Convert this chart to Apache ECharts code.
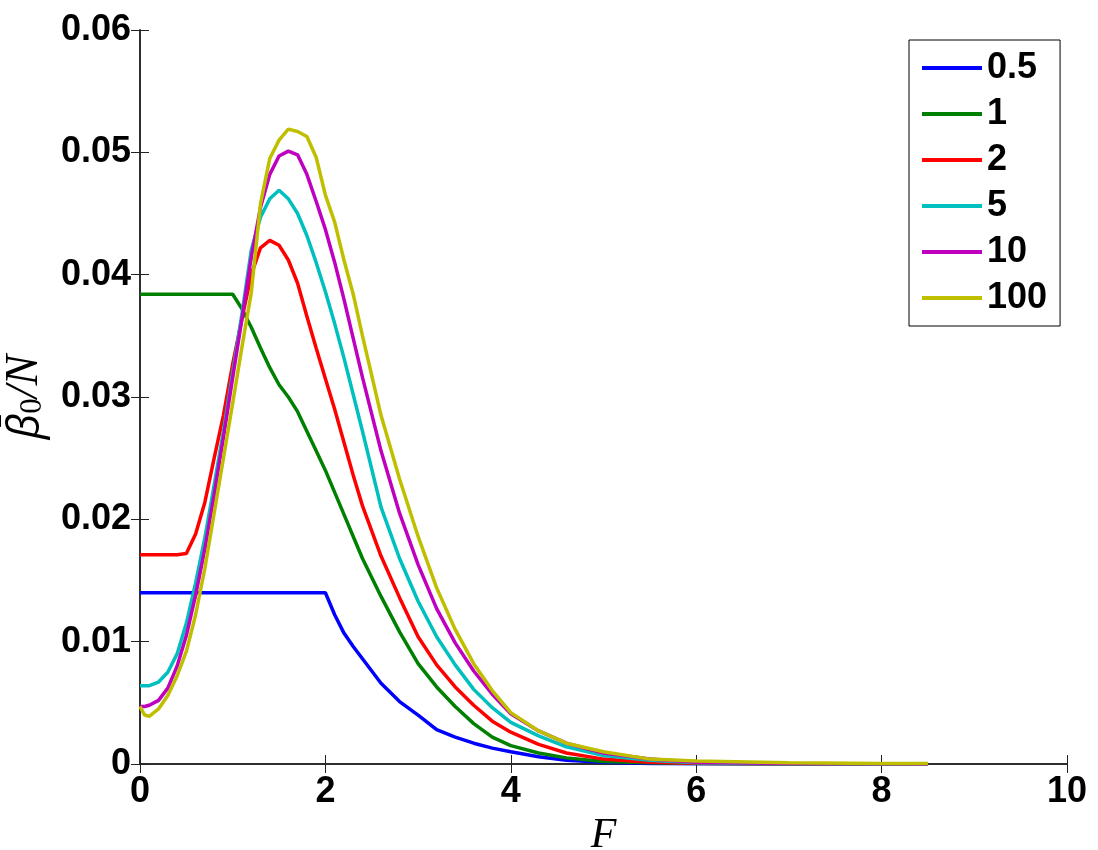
<!DOCTYPE html>
<html><head><meta charset="utf-8">
<script src="https://cdn.jsdelivr.net/npm/echarts@6/dist/echarts.min.js"></script>
<style>html,body{margin:0;padding:0;background:#fff}#c{width:1098px;height:850px}</style>
</head><body><div id="c"></div>
<script>
const F = [0, 0.05, 0.1, 0.2, 0.3, 0.4, 0.5, 0.6, 0.7, 0.8, 0.9, 1.0, 1.1, 1.2, 1.3, 1.4, 1.5, 1.6, 1.7, 1.8, 1.9, 2.0, 2.1, 2.2, 2.3, 2.4, 2.6, 2.8, 3.0, 3.2, 3.4, 3.6, 3.8, 4.0, 4.3, 4.6, 5.0, 5.5, 6.0, 7.0, 8.0, 8.5];
const s0_5 = [0.014,0.014,0.014,0.014,0.014,0.014,0.014,0.014,0.014,0.014,0.014,0.014,0.014,0.014,0.014,0.014,0.014,0.014,0.014,0.014,0.014,0.014,0.0122,0.0107,0.0096,0.0086,0.0066,0.0051,0.0040,0.0028,0.0022,0.0017,0.0013,0.0010,0.0006,0.0003,0.00015,0.00005,0.00002,0,0,0];
const s1 = [0.0384,0.0384,0.0384,0.0384,0.0384,0.0384,0.0384,0.0384,0.0384,0.0384,0.0384,0.0384,0.0372,0.0357,0.0340,0.0324,0.0310,0.0300,0.0288,0.0272,0.0256,0.0240,0.0222,0.0204,0.0186,0.0168,0.0137,0.0108,0.0082,0.0063,0.0047,0.0033,0.0022,0.0015,0.0009,0.0005,0.0002,0.0001,0.00004,0.00001,0,0];
const s2 = [0.0171,0.0171,0.0171,0.0171,0.0171,0.0171,0.0172,0.0188,0.0214,0.0250,0.0285,0.0327,0.0364,0.0400,0.0422,0.0428,0.0424,0.0412,0.0393,0.0366,0.0340,0.0315,0.0290,0.0263,0.0236,0.0211,0.0170,0.0136,0.0104,0.0081,0.0063,0.0048,0.0035,0.0026,0.0016,0.0009,0.0004,0.00015,0.00006,0.00002,0,0];
const s5 = [0.0064,0.0064,0.0064,0.0067,0.0075,0.0090,0.0115,0.0148,0.0185,0.0228,0.0272,0.0320,0.0368,0.0420,0.0447,0.0462,0.0469,0.0462,0.0450,0.0432,0.0410,0.0386,0.0360,0.0332,0.0302,0.0272,0.0210,0.0168,0.0133,0.0104,0.0081,0.0061,0.0046,0.0034,0.0023,0.0014,0.0007,0.0003,0.0001,0.00003,0.00001,0];
const s10 = [0.0047,0.0047,0.0048,0.0052,0.0062,0.0080,0.0105,0.0138,0.0176,0.0220,0.0267,0.0316,0.0364,0.0414,0.0455,0.0482,0.0497,0.0501,0.0498,0.0482,0.0460,0.0437,0.0410,0.0380,0.0348,0.0316,0.0256,0.0205,0.0163,0.0127,0.0099,0.0076,0.0057,0.0041,0.0027,0.0017,0.0009,0.0004,0.00015,0.00005,0.00002,0.00001];
const s100 = [0.0047,0.0040,0.0039,0.0045,0.0056,0.0072,0.0092,0.0122,0.0160,0.0205,0.0250,0.0295,0.0341,0.0385,0.0458,0.0495,0.0510,0.0519,0.0517,0.0513,0.0496,0.0465,0.0443,0.0412,0.0384,0.0350,0.0285,0.0233,0.0186,0.0144,0.0110,0.0082,0.0060,0.0042,0.0027,0.0017,0.0010,0.0004,0.00025,0.0001,0.00005,0.00005];
const seriesNames = ['0.5','1','2','5','10','100'];
const seriesValues = [s0_5, s1, s2, s5, s10, s100];
const colors = ['#0000ff','#008000','#ff0000','#00bfbf','#bf00bf','#bfbf00'];

const chart = echarts.init(document.getElementById('c'), null, {renderer:'canvas'});
const labelFont = {fontSize:36, fontWeight:'bold', color:'#000', fontFamily:'Liberation Sans, Arial, sans-serif'};
const lineStyleAxis = {color:'#222', width:1.5};
const tick = {show:true, inside:true, length:9, lineStyle:{color:'#222', width:1}};
chart.setOption({
  animation:false,
  backgroundColor:'#fff',
  grid:{left:140, right:31, top:30, bottom:86, containLabel:false, outerBoundsMode:'none'},
  legend:{
    orient:'vertical', left:909, top:40, align:'left',
    backgroundColor:'#fff', borderColor:'#000', borderWidth:1, borderRadius:0,
    padding:[10,13,10,13], itemGap:10, itemWidth:60, itemHeight:4, icon:'rect',
    textStyle:Object.assign({lineHeight:36}, labelFont),
    data:seriesNames
  },
  xAxis:[
    {type:'value', min:0, max:10, interval:2, position:'bottom',
     axisLine:{show:true, lineStyle:lineStyleAxis}, axisTick:tick,
     axisLabel:Object.assign({margin:10}, labelFont), splitLine:{show:false},
     name:'F', nameLocation:'middle', nameGap:45,
     nameTextStyle:{fontFamily:'Liberation Serif, serif', fontStyle:'italic', fontSize:42, color:'#000'}},
    {type:'value', min:0, max:10, interval:2, position:'top',
     axisLine:{show:true, lineStyle:lineStyleAxis}, axisTick:tick,
     axisLabel:{show:false}, splitLine:{show:false}}
  ],
  yAxis:[
    {type:'value', min:0, max:0.06, interval:0.01, position:'left',
     axisLine:{show:true, lineStyle:lineStyleAxis}, axisTick:tick,
     axisLabel:Object.assign({margin:9, formatter:v => v===0 ? '0' : v.toFixed(2)}, labelFont),
     splitLine:{show:false},
     name:'{b|\u03B2\u0304}{s|0}{n|/N}', nameLocation:'middle', nameGap:92,
     nameTextStyle:{color:'#000', rich:{
       b:{fontFamily:'Open Sans, sans-serif', fontStyle:'italic', fontSize:44, lineHeight:48, verticalAlign:'bottom', color:'#000'},
       s:{fontFamily:'Liberation Serif, serif', fontSize:31, lineHeight:18, verticalAlign:'bottom', color:'#000'},
       n:{fontFamily:'Liberation Serif, serif', fontStyle:'italic', fontSize:46, lineHeight:48, verticalAlign:'bottom', color:'#000'}
     }}},
    {type:'value', min:0, max:0.06, interval:0.01, position:'right',
     axisLine:{show:true, lineStyle:lineStyleAxis}, axisTick:tick,
     axisLabel:{show:false}, splitLine:{show:false}}
  ],
  series: seriesNames.map((n,k) => ({
    name:n, type:'line', xAxisIndex:0, yAxisIndex:0, showSymbol:false, symbol:'none',
    color:colors[k], lineStyle:{color:colors[k], width:3.5}, z:2+k,
    data:F.map((x,i) => [x, seriesValues[k][i]])
  }))
});
</script></body></html>
